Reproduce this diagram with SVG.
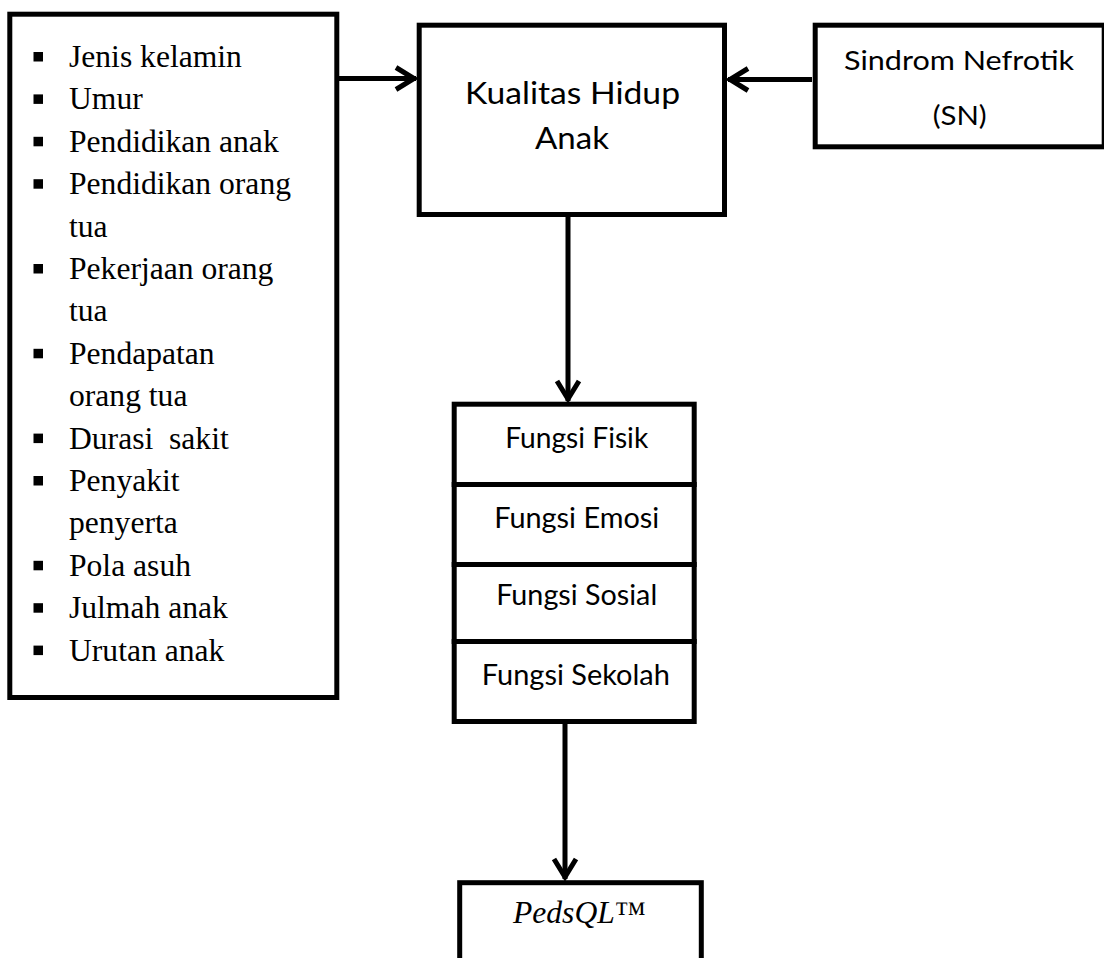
<svg xmlns="http://www.w3.org/2000/svg" width="1104" height="958" viewBox="0 0 1104 958">
<style>
.box{fill:#fff;stroke:#000;stroke-width:5}
.conn{fill:none;stroke:#000;stroke-width:5}
.serif{font-family:"Liberation Serif","Times New Roman",serif;font-size:31.6px;fill:#000}
.sans{font-family:Lato,"Open Sans",sans-serif;fill:#000}
.k{font-size:31px}
.sn{font-size:26.5px}
.f{font-size:28px}
.bul{fill:#000}
</style>
<defs>
<marker id="arr" markerUnits="userSpaceOnUse" markerWidth="40" markerHeight="40" viewBox="-30 -20 40 40" refX="0" refY="0" orient="auto" overflow="visible">
<path d="M-20,-11 L-2,0 L-20,11" fill="none" stroke="#000" stroke-width="5" stroke-linejoin="miter"/>
</marker>
</defs>
<rect width="1104" height="958" fill="#fff"/>
<g id="connectors">
<line class="conn" x1="339" y1="78.5" x2="416" y2="78.5" marker-end="url(#arr)"/>
<line class="conn" x1="812" y1="79.5" x2="728" y2="79.5" marker-end="url(#arr)"/>
<line class="conn" x1="568" y1="217" x2="568" y2="401" marker-end="url(#arr)"/>
<line class="conn" x1="565" y1="724" x2="565" y2="879" marker-end="url(#arr)"/>
</g>
<g id="faktor">
<rect class="box" x="9.8" y="14.2" width="327" height="683.3"/>
<g class="bul">
<rect x="33.5" y="52" width="9.5" height="9.5"/>
<rect x="33.5" y="94.4" width="9.5" height="9.5"/>
<rect x="33.5" y="136.8" width="9.5" height="9.5"/>
<rect x="33.5" y="179.2" width="9.5" height="9.5"/>
<rect x="33.5" y="264" width="9.5" height="9.5"/>
<rect x="33.5" y="348.8" width="9.5" height="9.5"/>
<rect x="33.5" y="433.6" width="9.5" height="9.5"/>
<rect x="33.5" y="476" width="9.5" height="9.5"/>
<rect x="33.5" y="560.8" width="9.5" height="9.5"/>
<rect x="33.5" y="603.2" width="9.5" height="9.5"/>
<rect x="33.5" y="645.6" width="9.5" height="9.5"/>
</g>
<text class="serif" x="69" y="67">Jenis kelamin</text>
<text class="serif" x="69" y="109.4">Umur</text>
<text class="serif" x="69" y="151.8">Pendidikan anak</text>
<text class="serif" x="69" y="194.2">Pendidikan orang</text>
<text class="serif" x="69" y="236.6">tua</text>
<text class="serif" x="69" y="279">Pekerjaan orang</text>
<text class="serif" x="69" y="321.4">tua</text>
<text class="serif" x="69" y="363.8">Pendapatan</text>
<text class="serif" x="69" y="406.2">orang tua</text>
<text class="serif" x="69" y="448.6" xml:space="preserve">Durasi  sakit</text>
<text class="serif" x="69" y="491">Penyakit</text>
<text class="serif" x="69" y="533.4">penyerta</text>
<text class="serif" x="69" y="575.8">Pola asuh</text>
<text class="serif" x="69" y="618.2">Julmah anak</text>
<text class="serif" x="69" y="660.6">Urutan anak</text>
</g>
<g id="kualitas">
<rect class="box" x="419.2" y="25.2" width="305.3" height="189.3"/>
<text class="sans k" x="572.5" y="104" text-anchor="middle" textLength="215" lengthAdjust="spacingAndGlyphs">Kualitas Hidup</text>
<text class="sans k" x="572" y="149" text-anchor="middle" textLength="74" lengthAdjust="spacingAndGlyphs">Anak</text>
</g>
<g id="sindrom">
<rect class="box" x="815.2" y="25.2" width="289" height="121.6"/>
<text class="sans sn" x="959" y="70" text-anchor="middle" textLength="230" lengthAdjust="spacingAndGlyphs">Sindrom Nefrotik</text>
<text class="sans sn" x="959.7" y="125" text-anchor="middle" textLength="54" lengthAdjust="spacingAndGlyphs">(SN)</text>
</g>
<g id="fungsi">
<g id="fungsi-fisik">
<rect class="box" x="454.2" y="404.2" width="240" height="80.3"/>
<text class="sans f" x="576.7" y="448" text-anchor="middle" textLength="143" lengthAdjust="spacingAndGlyphs">Fungsi Fisik</text>
</g>
<g id="fungsi-emosi">
<rect class="box" x="454.2" y="484.5" width="240" height="80"/>
<text class="sans f" x="576.7" y="528.3" text-anchor="middle" textLength="165" lengthAdjust="spacingAndGlyphs">Fungsi Emosi</text>
</g>
<g id="fungsi-sosial">
<rect class="box" x="454.2" y="564.5" width="240" height="77"/>
<text class="sans f" x="576.7" y="605" text-anchor="middle" textLength="161" lengthAdjust="spacingAndGlyphs">Fungsi Sosial</text>
</g>
<g id="fungsi-sekolah">
<rect class="box" x="454.2" y="641.5" width="240" height="80"/>
<text class="sans f" x="575.8" y="685" text-anchor="middle" textLength="188" lengthAdjust="spacingAndGlyphs">Fungsi Sekolah</text>
</g>
</g>
<g id="pedsql">
<rect class="box" x="459.7" y="882.7" width="241.6" height="100" stroke-width="6"/>
<text class="serif" x="513" y="923" font-size="32.5"><tspan font-style="italic">PedsQL</tspan>™</text>
</g>
</svg>
